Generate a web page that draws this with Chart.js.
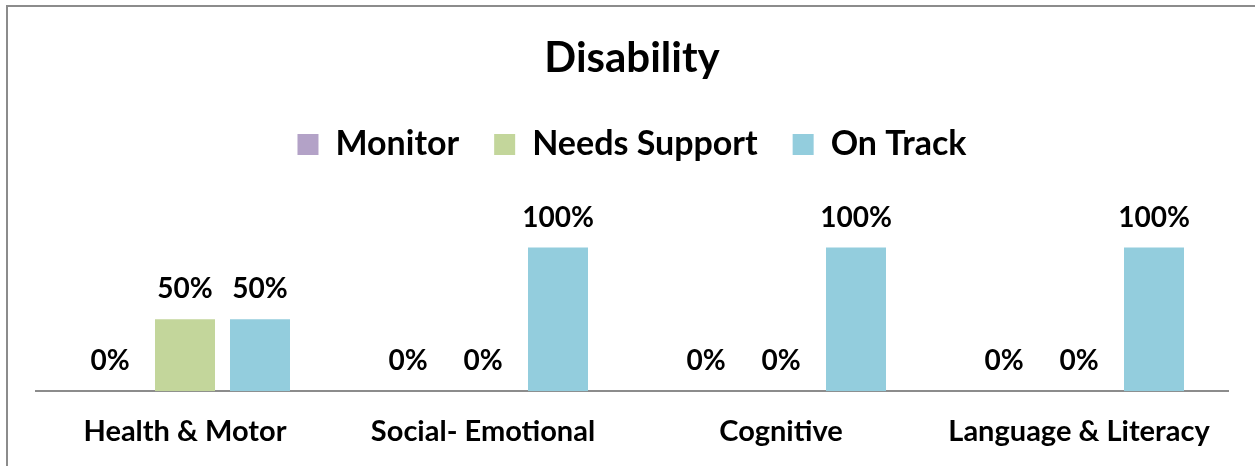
<!DOCTYPE html>
<html>
<head>
<meta charset="utf-8">
<script src="https://cdn.jsdelivr.net/npm/chart.js@4.4.0/dist/chart.umd.min.js"></script>
<style>
  html, body { margin: 0; padding: 0; background: #fff; overflow: hidden; }
  #frame {
    position: absolute; left: 6px; top: 5px; width: 1270px; height: 480px;
    border: 2px solid #8c8c8c;
  }
  #wrap { position: absolute; left: 0; top: 0; width: 1255px; height: 466px; }
</style>
</head>
<body>
<div id="frame"></div>
<div id="wrap"><canvas id="chart"></canvas></div>
<script>
const categories = ["Health & Motor", "Social- Emotional", "Cognitive", "Language & Literacy"];
const seriesNames = ["Monitor", "Needs Support", "On Track"];
const monitor = [0, 0, 0, 0];
const needsSupport = [50, 0, 0, 0];
const onTrack = [50, 100, 100, 100];
const colors = ["#b3a2c7", "#c3d69b", "#93cddd"];

const FONT = "Lato, 'Open Sans', sans-serif";

// draws the "50%" style labels over each bar
const barLabels = {
  id: "barLabels",
  afterDatasetsDraw(chart) {
    const ctx = chart.ctx;
    ctx.save();
    ctx.font = "bold 28px " + FONT;
    ctx.fillStyle = "#000";
    ctx.textAlign = "center";
    ctx.textBaseline = "middle";
    chart.data.datasets.forEach((ds, i) => {
      const meta = chart.getDatasetMeta(i);
      meta.data.forEach((bar, j) => {
        ctx.fillText(ds.data[j] + "%", bar.x, bar.y - 30);
      });
    });
    ctx.restore();
  }
};

new Chart(document.getElementById("chart"), {
  type: "bar",
  data: {
    labels: categories,
    datasets: [
      { label: seriesNames[0], data: monitor, backgroundColor: colors[0] },
      { label: seriesNames[1], data: needsSupport, backgroundColor: colors[1] },
      { label: seriesNames[2], data: onTrack, backgroundColor: colors[2] }
    ]
  },
  options: {
    responsive: true,
    maintainAspectRatio: false,
    animation: false,
    layout: { padding: { left: 36, right: 27, top: 0, bottom: -7 } },
    datasets: { bar: { categoryPercentage: 0.755, barPercentage: 0.8 } },
    plugins: {
      title: {
        display: true,
        text: "Disability",
        color: "#000",
        font: { family: FONT, size: 42, weight: "bold" },
        padding: { top: 33, bottom: 9 }
      },
      legend: {
        position: "top",
        labels: {
          color: "#000",
          font: { family: FONT, size: 34, weight: "bold" },
          boxWidth: 21,
          boxHeight: 21,
          padding: 35
        }
      },
      tooltip: { enabled: false }
    },
    scales: {
      x: {
        grid: { display: false, drawTicks: false },
        border: { display: true, color: "#8c8c8c", width: 2 },
        ticks: {
          color: "#000",
          font: { family: FONT, size: 29, weight: "bold" },
          padding: 23.5,
          maxRotation: 0
        }
      },
      y: {
        display: false,
        min: 0,
        max: 153
      }
    }
  },
  plugins: [barLabels]
});
</script>
</body>
</html>
